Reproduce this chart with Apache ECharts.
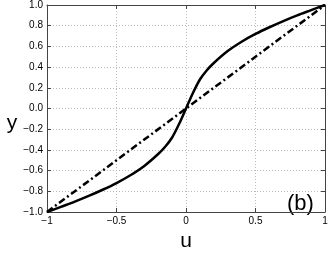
<!DOCTYPE html>
<html>
<head>
<meta charset="utf-8">
<script src="https://cdn.jsdelivr.net/npm/echarts@6/dist/echarts.min.js"></script>
<style>
html,body{margin:0;padding:0;background:#fff;}
#main{width:332px;height:257px;}
</style>
</head>
<body>
<div id="main"></div>
<script>
// values
var uVals = [-1, -0.9, -0.8, -0.7, -0.6, -0.5, -0.4, -0.3, -0.2, -0.15, -0.1, -0.05, 0,
             0.05, 0.1, 0.15, 0.2, 0.3, 0.4, 0.5, 0.6, 0.7, 0.8, 0.9, 1];
var curveVals = [-1, -0.95, -0.9, -0.845, -0.785, -0.72, -0.645, -0.555, -0.44, -0.37, -0.28, -0.15, 0,
                 0.15, 0.28, 0.37, 0.44, 0.555, 0.645, 0.72, 0.785, 0.845, 0.9, 0.95, 1];
var lineU = [-1, 1];
var lineY = [-1, 1];
var xTicks = ['\u22121', '\u22120.5', '0', '0.5', '1'];

var font = 'Liberation Sans, Arial, sans-serif';

function pairs(a, b) {
  var out = [];
  for (var i = 0; i < a.length; i++) out.push([a[i], b[i]]);
  return out;
}

var chart = echarts.init(document.getElementById('main'));
var gridLine = { show: true, lineStyle: { color: '#bbb', type: [1, 2], width: 1 } };
var frame = { show: true, onZero: false, lineStyle: { color: '#444', width: 1 } };
var tick = { show: true, inside: true, length: 4, lineStyle: { color: '#444' } };

var option = {
  animation: false,
  grid: { left: 47, right: 7, top: 5, bottom: 32 },
  xAxis: [{
    type: 'value', min: -1, max: 1, interval: 0.5,
    axisLine: frame, axisTick: tick, splitLine: gridLine,
    axisLabel: {
      color: '#000', fontSize: 10, fontFamily: font, margin: 4,
      formatter: function (v) { return xTicks[Math.round((v + 1) / 0.5)]; }
    },
    name: 'u', nameLocation: 'middle', nameGap: 19,
    nameTextStyle: { color: '#000', fontSize: 21, fontFamily: font }
  }, {
    type: 'value', min: -1, max: 1, interval: 0.5, position: 'top',
    axisLine: frame, axisTick: tick, axisLabel: { show: false }, splitLine: { show: false }
  }],
  yAxis: [{
    type: 'value', min: -1, max: 1, interval: 0.2,
    axisLine: frame, axisTick: tick, splitLine: gridLine,
    axisLabel: {
      color: '#000', fontSize: 10, fontFamily: font, margin: 4,
      formatter: function (v) { return v.toFixed(1).replace('-', '\u2212'); }
    }
  }, {
    type: 'value', min: -1, max: 1, interval: 0.2, position: 'right',
    axisLine: frame, axisTick: tick, axisLabel: { show: false }, splitLine: { show: false }
  }],
  graphic: [{
    type: 'text', x: 12, y: 123,
    style: { text: 'y', fill: '#000', fontSize: 21, fontFamily: font, align: 'center', verticalAlign: 'middle' }
  }, {
    type: 'text', left: 287, top: 193,
    style: { text: '(b)', fill: '#000', fontSize: 22, fontFamily: font }
  }],
  series: [{
    type: 'line', data: pairs(lineU, lineY), symbol: 'none',
    lineStyle: { color: '#000', width: 2.5, type: [7, 3, 2, 3] }
  }, {
    type: 'line', data: pairs(uVals, curveVals), symbol: 'none', smooth: 0.3,
    lineStyle: { color: '#000', width: 2.5 }
  }]
};
chart.setOption(option);
</script>
</body>
</html>
